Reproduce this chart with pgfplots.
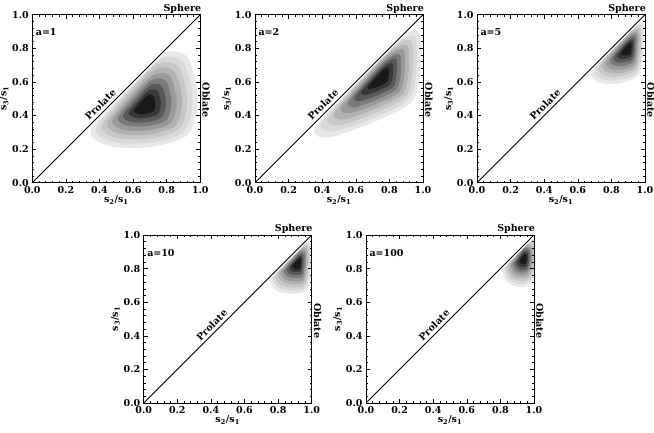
\documentclass[border=0pt]{standalone}
\usepackage{pgfplots}
\pgfplotsset{compat=1.18}
\usepackage{fontspec}
\setmainfont{DejaVu Serif}
\newcommand{\lab}{\bfseries\fontsize{9.5}{11}\selectfont}
\pgfplotsset{
 panel/.style={
  scale only axis, width=168pt, height=168pt,
  xmin=0, xmax=1, ymin=0, ymax=1,
  xtick={0,0.2,0.4,0.6,0.8,1}, ytick={0,0.2,0.4,0.6,0.8,1},
  minor tick num=4, tick align=inside, major tick length=4pt, minor tick length=2pt,
  axis on top, clip mode=individual,
  every tick/.style={black, line width=0.5pt},
  axis line style={line width=0.6pt},
  tick label style={font=\lab, /pgf/number format/assume math mode=true},
  xticklabel style={/pgf/number format/.cd, fixed, fixed zerofill, precision=1},
  yticklabel style={/pgf/number format/.cd, fixed, fixed zerofill, precision=1},
  label style={font=\lab},
  xlabel={s\textsubscript{2}/s\textsubscript{1}},
  ylabel={s\textsubscript{3}/s\textsubscript{1}},
  xlabel style={yshift=5pt},
  ylabel style={yshift=-3pt},
  anchor=south west,
 },
 lv/.style={draw=none, fill=black!#1, smooth cycle},
}
\newcommand{\decor}[1]{%
 \addplot[draw=none, fill=white] coordinates {(-0.1,-0.115) (1.1,1.085) (1.1,1.3) (-0.1,1.3)};
 \addplot[black, line width=0.9pt] coordinates {(0,0) (1,1)};
 \node[font=\lab, anchor=west, inner sep=0pt] at (axis cs:0.02,0.895) {#1};
 \node[font=\lab, anchor=south east, inner sep=1pt, xshift=2pt] at (axis cs:1,1) {Sphere};
 \node[font=\lab, anchor=south, rotate=-90, inner sep=2pt] at (axis cs:1,0.49) {Oblate};
 \node[font=\lab, anchor=base, rotate=45, inner sep=0pt] at (axis cs:0.42,0.45) {Prolate};
}
\begin{document}
\begin{tikzpicture}[x=1pt,y=1pt]
\useasboundingbox (0,0) rectangle (654,432);
% ---------------- a=1
\begin{axis}[panel, at={(32.3pt,249.3pt)}]
\addplot[lv=9]  coordinates {(0.345,0.300) (0.470,0.215) (0.720,0.215) (0.930,0.290) (0.985,0.500) (0.920,0.750) (0.750,0.760) (0.500,0.500)};
\addplot[lv=15] coordinates {(0.378,0.316) (0.490,0.240) (0.715,0.240) (0.904,0.307) (0.954,0.496) (0.895,0.721) (0.742,0.730) (0.517,0.496)};
\addplot[lv=22] coordinates {(0.410,0.332) (0.510,0.264) (0.710,0.264) (0.878,0.324) (0.922,0.492) (0.870,0.692) (0.734,0.700) (0.534,0.492)};
\addplot[lv=30] coordinates {(0.443,0.348) (0.530,0.289) (0.705,0.289) (0.852,0.341) (0.891,0.488) (0.845,0.663) (0.726,0.670) (0.551,0.488)};
\addplot[lv=40] coordinates {(0.475,0.364) (0.550,0.313) (0.700,0.313) (0.826,0.358) (0.859,0.484) (0.820,0.634) (0.718,0.640) (0.568,0.484)};
\addplot[lv=52] coordinates {(0.508,0.380) (0.570,0.338) (0.695,0.338) (0.800,0.375) (0.828,0.480) (0.795,0.605) (0.710,0.610) (0.585,0.480)};
\addplot[lv=65] coordinates {(0.540,0.396) (0.590,0.362) (0.690,0.362) (0.774,0.392) (0.796,0.476) (0.770,0.576) (0.702,0.580) (0.602,0.476)};
\addplot[lv=78] coordinates {(0.573,0.412) (0.610,0.387) (0.685,0.387) (0.748,0.409) (0.765,0.472) (0.745,0.547) (0.694,0.550) (0.619,0.472)};
\addplot[lv=90] coordinates {(0.605,0.428) (0.630,0.411) (0.680,0.411) (0.722,0.426) (0.733,0.468) (0.720,0.518) (0.686,0.520) (0.636,0.468)};
\decor{a=1}
\end{axis}
% ---------------- a=2
\begin{axis}[panel, at={(255pt,249.3pt)}]
\addplot[lv=9]  coordinates {(0.350,0.310) (0.440,0.270) (0.680,0.350) (0.930,0.480) (0.985,0.680) (0.970,0.900) (0.800,0.820) (0.500,0.500)};
\addplot[lv=15] coordinates {(0.390,0.342) (0.471,0.306) (0.687,0.378) (0.912,0.495) (0.962,0.675) (0.948,0.873) (0.795,0.801) (0.525,0.513)};
\addplot[lv=22] coordinates {(0.430,0.374) (0.502,0.342) (0.694,0.406) (0.894,0.510) (0.938,0.670) (0.926,0.846) (0.790,0.782) (0.550,0.526)};
\addplot[lv=30] coordinates {(0.470,0.406) (0.533,0.378) (0.701,0.434) (0.876,0.525) (0.915,0.665) (0.904,0.819) (0.785,0.763) (0.575,0.539)};
\addplot[lv=40] coordinates {(0.510,0.438) (0.564,0.414) (0.708,0.462) (0.858,0.540) (0.891,0.660) (0.882,0.792) (0.780,0.744) (0.600,0.552)};
\addplot[lv=52] coordinates {(0.550,0.470) (0.595,0.450) (0.715,0.490) (0.840,0.555) (0.868,0.655) (0.860,0.765) (0.775,0.725) (0.625,0.565)};
\addplot[lv=65] coordinates {(0.590,0.502) (0.626,0.486) (0.722,0.518) (0.822,0.570) (0.844,0.650) (0.838,0.738) (0.770,0.706) (0.650,0.578)};
\addplot[lv=78] coordinates {(0.630,0.534) (0.657,0.522) (0.729,0.546) (0.804,0.585) (0.821,0.645) (0.816,0.711) (0.765,0.687) (0.675,0.591)};
\addplot[lv=90] coordinates {(0.670,0.566) (0.688,0.558) (0.736,0.574) (0.786,0.600) (0.797,0.640) (0.794,0.684) (0.760,0.668) (0.700,0.604)};
\decor{a=2}
\end{axis}
% ---------------- a=5
\begin{axis}[panel, at={(477pt,249.3pt)}]
\addplot[lv=9]  coordinates {(0.680,0.640) (0.730,0.595) (0.840,0.590) (0.960,0.640) (0.990,0.780) (0.990,0.950) (0.900,0.920) (0.720,0.720)};
\addplot[lv=15] coordinates {(0.702,0.656) (0.747,0.616) (0.846,0.611) (0.954,0.656) (0.981,0.782) (0.981,0.935) (0.900,0.908) (0.738,0.728)};
\addplot[lv=22] coordinates {(0.724,0.672) (0.764,0.636) (0.852,0.632) (0.948,0.672) (0.972,0.784) (0.972,0.920) (0.900,0.896) (0.756,0.736)};
\addplot[lv=30] coordinates {(0.746,0.688) (0.781,0.657) (0.858,0.653) (0.942,0.688) (0.963,0.786) (0.963,0.905) (0.900,0.884) (0.774,0.744)};
\addplot[lv=40] coordinates {(0.768,0.704) (0.798,0.677) (0.864,0.674) (0.936,0.704) (0.954,0.788) (0.954,0.890) (0.900,0.872) (0.792,0.752)};
\addplot[lv=52] coordinates {(0.790,0.720) (0.815,0.698) (0.870,0.695) (0.930,0.720) (0.945,0.790) (0.945,0.875) (0.900,0.860) (0.810,0.760)};
\addplot[lv=65] coordinates {(0.812,0.736) (0.832,0.718) (0.876,0.716) (0.924,0.736) (0.936,0.792) (0.936,0.860) (0.900,0.848) (0.828,0.768)};
\addplot[lv=78] coordinates {(0.834,0.752) (0.849,0.739) (0.882,0.737) (0.918,0.752) (0.927,0.794) (0.927,0.845) (0.900,0.836) (0.846,0.776)};
\addplot[lv=90] coordinates {(0.856,0.768) (0.866,0.759) (0.888,0.758) (0.912,0.768) (0.918,0.796) (0.918,0.830) (0.900,0.824) (0.864,0.784)};
\decor{a=5}
\end{axis}
% ---------------- a=10
\begin{axis}[panel, at={(143.7pt,29pt)}]
\addplot[lv=9]  coordinates {(0.750,0.720) (0.790,0.670) (0.870,0.650) (0.970,0.670) (0.995,0.800) (0.995,0.950) (0.930,0.950) (0.770,0.770)};
\addplot[lv=15] coordinates {(0.767,0.732) (0.803,0.687) (0.875,0.669) (0.965,0.687) (0.988,0.804) (0.988,0.939) (0.929,0.939) (0.785,0.777)};
\addplot[lv=22] coordinates {(0.784,0.743) (0.816,0.703) (0.880,0.687) (0.960,0.703) (0.980,0.807) (0.980,0.927) (0.928,0.927) (0.800,0.783)};
\addplot[lv=30] coordinates {(0.801,0.755) (0.829,0.720) (0.885,0.706) (0.955,0.720) (0.973,0.811) (0.973,0.916) (0.927,0.916) (0.815,0.790)};
\addplot[lv=40] coordinates {(0.818,0.766) (0.842,0.736) (0.890,0.724) (0.950,0.736) (0.965,0.814) (0.965,0.904) (0.926,0.904) (0.830,0.796)};
\addplot[lv=52] coordinates {(0.835,0.778) (0.855,0.753) (0.895,0.743) (0.945,0.753) (0.958,0.818) (0.958,0.893) (0.925,0.893) (0.845,0.803)};
\addplot[lv=65] coordinates {(0.852,0.789) (0.868,0.769) (0.900,0.761) (0.940,0.769) (0.950,0.821) (0.950,0.881) (0.924,0.881) (0.860,0.809)};
\addplot[lv=78] coordinates {(0.869,0.801) (0.881,0.786) (0.905,0.780) (0.935,0.786) (0.943,0.825) (0.943,0.870) (0.923,0.870) (0.875,0.816)};
\addplot[lv=90] coordinates {(0.886,0.812) (0.894,0.802) (0.910,0.798) (0.930,0.802) (0.935,0.828) (0.935,0.858) (0.922,0.858) (0.890,0.822)};
\decor{a=10}
\end{axis}
% ---------------- a=100
\begin{axis}[panel, at={(366pt,29pt)}]
\addplot[lv=9]  coordinates {(0.810,0.790) (0.840,0.720) (0.920,0.690) (0.990,0.720) (1.020,0.840) (1.010,0.960) (0.940,0.980) (0.830,0.830)};
\addplot[lv=15] coordinates {(0.823,0.797) (0.850,0.734) (0.922,0.707) (0.985,0.734) (1.012,0.842) (1.003,0.950) (0.940,0.968) (0.841,0.833)};
\addplot[lv=22] coordinates {(0.836,0.804) (0.860,0.748) (0.924,0.724) (0.980,0.748) (1.004,0.844) (0.996,0.940) (0.940,0.956) (0.852,0.836)};
\addplot[lv=30] coordinates {(0.849,0.811) (0.870,0.762) (0.926,0.741) (0.975,0.762) (0.996,0.846) (0.989,0.930) (0.940,0.944) (0.863,0.839)};
\addplot[lv=40] coordinates {(0.862,0.818) (0.880,0.776) (0.928,0.758) (0.970,0.776) (0.988,0.848) (0.982,0.920) (0.940,0.932) (0.874,0.842)};
\addplot[lv=52] coordinates {(0.875,0.825) (0.890,0.790) (0.930,0.775) (0.965,0.790) (0.980,0.850) (0.975,0.910) (0.940,0.920) (0.885,0.845)};
\addplot[lv=65] coordinates {(0.888,0.832) (0.900,0.804) (0.932,0.792) (0.960,0.804) (0.972,0.852) (0.968,0.900) (0.940,0.908) (0.896,0.848)};
\addplot[lv=78] coordinates {(0.901,0.839) (0.910,0.818) (0.934,0.809) (0.955,0.818) (0.964,0.854) (0.961,0.890) (0.940,0.896) (0.907,0.851)};
\addplot[lv=90] coordinates {(0.914,0.846) (0.920,0.832) (0.936,0.826) (0.950,0.832) (0.956,0.856) (0.954,0.880) (0.940,0.884) (0.918,0.854)};
\decor{a=100}
\end{axis}
\end{tikzpicture}
\end{document}
